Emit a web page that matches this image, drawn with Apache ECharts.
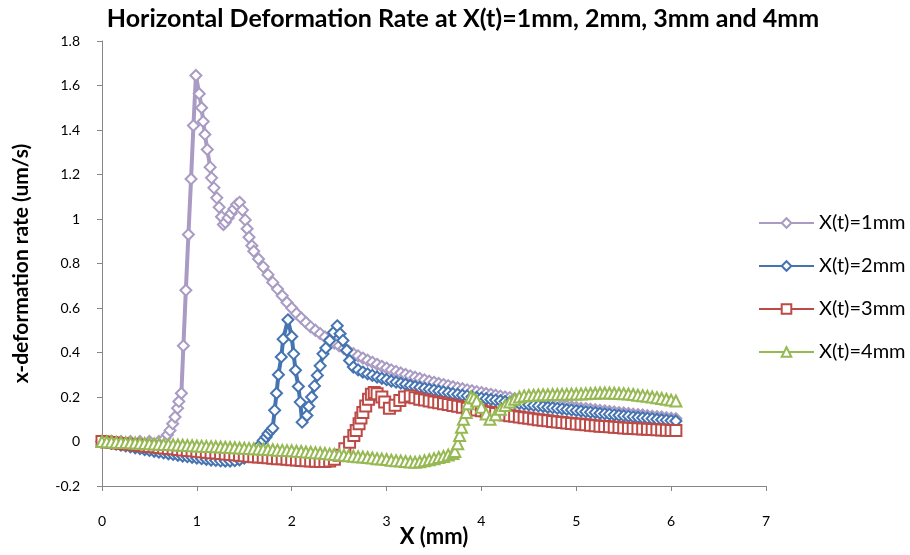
<!DOCTYPE html>
<html><head><meta charset="utf-8">
<script src="https://cdn.jsdelivr.net/npm/echarts@6/dist/echarts.min.js"></script>
<style>html,body{margin:0;padding:0;background:#fff}#c{width:910px;height:555px}</style>
</head><body><div id="c"></div>
<script>
var seriesNames = ['X(t)=1mm', 'X(t)=2mm', 'X(t)=3mm', 'X(t)=4mm'];
var xTicks = [0, 1, 2, 3, 4, 5, 6, 7];
var yTicks = [-0.2, 0, 0.2, 0.4, 0.6, 0.8, 1, 1.2, 1.4, 1.6, 1.8];

var x1 = [0,0.1,0.2,0.3,0.4,0.5,0.6,0.66,0.69,0.717,0.745,0.77,0.797,0.81,0.837,0.858,0.884,0.911,0.939,0.964,0.99,1.025,1.05,1.067,1.085,1.11,1.14,1.155,1.18,1.21,1.235,1.26,1.28,1.3,1.33,1.36,1.39,1.42,1.45,1.48,1.51,1.53,1.55,1.58,
1.6,1.65,1.7,1.75,1.8,1.85,1.9,1.95,2.0,2.05,2.1,2.15,2.2,2.25,2.3,2.35,2.4,2.45,2.5,2.55,2.6,2.65,2.7,2.75,2.8,2.85,2.9,2.95,3.0,3.05,3.1,3.15,3.2,3.25,3.3,3.35,3.4,3.45,3.5,3.55,3.6,3.65,3.7,3.75,3.8,3.85,3.9,3.95,4.0,4.05,4.1,4.15,4.2,4.25,4.3,4.35,4.4,4.45,4.5,4.55,4.6,4.65,4.7,4.75,4.8,4.85,4.9,4.95,5.0,5.05,5.1,5.15,5.2,5.25,5.3,5.35,5.4,5.45,5.5,5.55,5.6,5.65,5.7,5.75,5.8,5.85,5.9,5.95,6.0,6.05];
var y1 = [0,0,0,0,0,0,0,0.013,0.03,0.05,0.08,0.11,0.15,0.18,0.217,0.43,0.68,0.93,1.18,1.42,1.645,1.563,1.5,1.438,1.38,1.312,1.233,1.185,1.14,1.095,1.053,1.01,0.975,0.985,1.005,1.025,1.045,1.065,1.075,1.04,0.996,0.956,0.918,0.88,
0.855,0.82,0.785,0.75,0.715,0.685,0.655,0.625,0.6,0.575,0.555,0.535,0.515,0.5,0.485,0.47,0.455,0.442,0.43,0.418,0.406,0.395,0.385,0.375,0.365,0.356,0.347,0.338,0.33,0.322,0.315,0.308,0.301,0.295,0.289,0.283,0.277,0.271,0.266,0.261,0.256,0.251,0.246,0.241,0.237,0.232,0.228,0.224,0.22,0.216,0.212,0.208,0.204,0.2,0.197,0.193,0.19,0.186,0.183,0.18,0.177,0.174,0.171,0.168,0.165,0.162,0.159,0.156,0.153,0.15,0.148,0.145,0.143,0.14,0.138,0.135,0.133,0.13,0.128,0.126,0.123,0.121,0.119,0.116,0.114,0.112,0.11,0.107,0.105,0.103];

var x2 = [0,0.05,0.1,0.15,0.2,0.25,0.3,0.35,0.4,0.45,0.5,0.55,0.6,0.65,0.7,0.75,0.8,0.85,0.9,0.95,1.0,1.05,1.1,1.15,1.2,1.25,1.3,1.35,1.4,1.45,1.5,1.55,1.6,1.65,
1.7,1.73,1.75,1.78,1.8,1.82,1.84,1.86,1.89,1.91,1.96,2.0,2.02,2.04,2.07,2.09,2.11,2.16,2.18,2.21,2.24,2.27,2.3,2.33,2.36,2.4,2.44,2.48,2.51,2.54,2.58,2.61,2.65,
2.7,2.75,2.8,2.85,2.9,2.95,3.0,3.05,3.1,3.15,3.2,3.25,3.3,3.35,3.4,3.45,3.5,3.55,3.6,3.65,3.7,3.75,3.8,3.85,3.9,3.95,4.0,4.05,4.1,4.15,4.2,4.25,4.3,4.35,4.4,4.45,4.5,4.55,4.6,4.65,4.7,4.75,4.8,4.85,4.9,4.95,5.0,5.05,5.1,5.15,5.2,5.25,5.3,5.35,5.4,5.45,5.5,5.55,5.6,5.65,5.7,5.75,5.8,5.85,5.9,5.95,6.0,6.05];
var y2 = [0,-0.004,-0.008,-0.012,-0.016,-0.02,-0.024,-0.028,-0.032,-0.036,-0.04,-0.044,-0.048,-0.051,-0.055,-0.058,-0.062,-0.065,-0.068,-0.071,-0.074,-0.077,-0.08,-0.083,-0.085,-0.087,-0.088,-0.088,-0.086,-0.082,-0.075,-0.063,-0.045,-0.022,
0.005,0.02,0.035,0.05,0.06,0.14,0.217,0.3,0.38,0.46,0.547,0.472,0.394,0.32,0.247,0.177,0.087,0.117,0.157,0.2,0.25,0.297,0.34,0.394,0.42,0.454,0.49,0.52,0.484,0.454,0.41,0.364,0.335,
0.322,0.312,0.304,0.297,0.29,0.284,0.278,0.272,0.267,0.262,0.257,0.252,0.247,0.243,0.239,0.235,0.231,0.227,0.223,0.219,0.215,0.212,0.208,0.205,0.201,0.198,0.195,0.192,0.189,0.186,0.183,0.18,0.177,0.174,0.171,0.168,0.165,0.162,0.16,0.157,0.154,0.152,0.149,0.147,0.144,0.142,0.139,0.137,0.134,0.132,0.13,0.127,0.125,0.123,0.12,0.118,0.116,0.114,0.111,0.109,0.107,0.105,0.103,0.1,0.098,0.096,0.094,0.092];

var x3 = [0,0.05,0.1,0.15,0.2,0.25,0.3,0.35,0.4,0.45,0.5,0.55,0.6,0.65,0.7,0.75,0.8,0.85,0.9,0.95,1.0,1.05,1.1,1.15,1.2,1.25,1.3,1.35,1.4,1.45,1.5,1.55,1.6,1.65,1.7,1.75,1.8,1.85,1.9,1.95,2.0,2.05,2.1,2.15,2.2,2.25,2.3,2.35,2.4,2.45,2.5,
2.56,2.61,2.655,2.68,2.71,2.73,2.75,2.78,2.81,2.84,2.87,2.9,2.95,2.98,3.03,3.09,3.14,3.19,3.25,3.3,
3.35,3.4,3.45,3.5,3.55,3.6,3.65,3.7,3.75,3.8,3.85,3.9,3.95,4.0,4.05,4.1,4.15,4.2,4.25,4.3,4.35,4.4,4.45,4.5,4.55,4.6,4.65,4.7,4.75,4.8,4.85,4.9,4.95,5.0,5.05,5.1,5.15,5.2,5.25,5.3,5.35,5.4,5.45,5.5,5.55,5.6,5.65,5.7,5.75,5.8,5.85,5.9,5.95,6.0,6.05];
var y3 = [0,-0.002,-0.004,-0.007,-0.009,-0.011,-0.013,-0.015,-0.018,-0.02,-0.022,-0.024,-0.027,-0.029,-0.031,-0.033,-0.036,-0.038,-0.04,-0.042,-0.044,-0.046,-0.048,-0.05,-0.052,-0.054,-0.056,-0.058,-0.06,-0.062,-0.064,-0.066,-0.068,-0.07,-0.071,-0.073,-0.075,-0.077,-0.078,-0.08,-0.082,-0.083,-0.085,-0.086,-0.088,-0.089,-0.09,-0.09,-0.088,-0.08,-0.062,
-0.033,-0.003,0.027,0.05,0.08,0.106,0.13,0.16,0.19,0.212,0.22,0.215,0.2,0.177,0.15,0.163,0.184,0.2,0.205,0.197,
0.19,0.186,0.182,0.178,0.174,0.17,0.166,0.162,0.158,0.154,0.15,0.146,0.142,0.138,0.134,0.13,0.126,0.122,0.119,0.116,0.113,0.11,0.107,0.104,0.101,0.098,0.095,0.093,0.09,0.088,0.085,0.083,0.081,0.079,0.077,0.075,0.073,0.071,0.069,0.067,0.066,0.064,0.063,0.061,0.06,0.058,0.057,0.056,0.055,0.054,0.053,0.052,0.051,0.05,0.049];

var x4 = [0,0.05,0.1,0.15,0.2,0.25,0.3,0.35,0.4,0.45,0.5,0.55,0.6,0.65,0.7,0.75,0.8,0.85,0.9,0.95,1.0,1.05,1.1,1.15,1.2,1.25,1.3,1.35,1.4,1.45,1.5,1.55,1.6,1.65,1.7,1.75,1.8,1.85,1.9,1.95,2.0,2.05,2.1,2.15,2.2,2.25,2.3,2.35,2.4,2.45,2.5,2.55,2.6,2.65,2.7,2.75,2.8,2.85,2.9,2.95,3.0,3.05,3.1,3.15,3.2,3.25,3.3,3.35,3.4,3.45,3.5,3.55,3.6,3.65,3.7,
3.72,3.75,3.77,3.79,3.81,3.84,3.86,3.89,3.92,3.95,4.0,4.05,4.09,
4.15,4.2,4.25,4.3,4.35,4.4,4.45,4.5,4.55,4.6,4.65,4.7,4.75,4.8,4.85,4.9,4.95,5.0,5.05,5.1,5.15,5.2,5.25,5.3,5.35,5.4,5.45,5.5,5.55,5.6,5.65,5.7,5.75,5.8,5.85,5.9,5.95,6.0,6.05];
var y4 = [0,-0.001,-0.002,-0.003,-0.004,-0.005,-0.006,-0.007,-0.008,-0.009,-0.01,-0.011,-0.012,-0.013,-0.014,-0.015,-0.016,-0.017,-0.018,-0.019,-0.02,-0.021,-0.022,-0.023,-0.024,-0.025,-0.026,-0.027,-0.028,-0.029,-0.03,-0.031,-0.033,-0.034,-0.035,-0.036,-0.037,-0.039,-0.04,-0.041,-0.042,-0.044,-0.045,-0.047,-0.048,-0.05,-0.052,-0.054,-0.056,-0.058,-0.06,-0.062,-0.064,-0.066,-0.068,-0.07,-0.072,-0.074,-0.077,-0.079,-0.081,-0.084,-0.086,-0.088,-0.09,-0.092,-0.093,-0.091,-0.087,-0.082,-0.077,-0.072,-0.067,-0.061,-0.054,
-0.045,-0.01,0.027,0.064,0.1,0.13,0.17,0.2,0.195,0.182,0.154,0.124,0.1,
0.12,0.145,0.162,0.177,0.19,0.2,0.205,0.207,0.208,0.209,0.21,0.21,0.211,0.211,0.212,0.212,0.213,0.213,0.214,0.215,0.216,0.217,0.218,0.218,0.218,0.217,0.216,0.215,0.213,0.211,0.208,0.206,0.203,0.2,0.197,0.193,0.19,0.186,0.182];

function pairs(xs, ys) { return xs.map(function (x, i) { return [x, ys[i]]; }); }

var colors = ['#A99BC4', '#4574B1', '#BC4A47', '#97B954'];
var symbols = ['diamond', 'diamond', 'rect', 'triangle'];
var symSizes = [11, 11, 11, 11];
var xs = [x1, x2, x3, x4], ys = [y1, y2, y3, y4];
var FONT = 'Lato, "Liberation Sans", sans-serif';

var chart = echarts.init(document.getElementById('c'), null, {renderer: 'canvas'});
chart.setOption({
  backgroundColor: '#ffffff',
  animation: false,
  title: {
    text: 'Horizontal Deformation Rate at X(t)=1mm, 2mm, 3mm and 4mm',
    left: 458, top: 1, textAlign: 'center',
    textStyle: {fontFamily: FONT, fontSize: 25, fontWeight: 'bold', color: '#000'}
  },
  legend: {
    orient: 'vertical', left: 753, top: 208,
    itemWidth: 55, itemHeight: 12, itemGap: 23,
    textStyle: {fontFamily: FONT, fontSize: 20, color: '#000'},
    lineStyle: {width: 2},
    data: seriesNames
  },
  grid: {left: 102, right: 144, top: 41, bottom: 69, outerBoundsMode: 'none', containLabel: false},
  xAxis: {
    type: 'value', min: xTicks[0], max: xTicks[xTicks.length - 1], interval: 1,
    name: 'X (mm)', nameLocation: 'middle', nameGap: 40, nameMoveOverlap: false,
    nameTextStyle: {fontFamily: FONT, fontSize: 22, fontWeight: 'bold', color: '#000'},
    axisLine: {onZero: false, lineStyle: {color: '#868686', width: 1}},
    axisTick: {show: true, inside: false, length: 5, lineStyle: {color: '#868686'}},
    axisLabel: {fontFamily: FONT, fontSize: 14, color: '#000', margin: 28},
    splitLine: {show: false}
  },
  yAxis: {
    type: 'value', min: yTicks[0], max: yTicks[yTicks.length - 1], interval: 0.2,
    name: 'x-deformation rate (um/s)', nameLocation: 'middle', nameGap: 70, nameMoveOverlap: false,
    nameTextStyle: {fontFamily: FONT, fontSize: 21, fontWeight: 'bold', color: '#000'},
    axisLine: {show: true, lineStyle: {color: '#868686', width: 1}},
    axisTick: {show: true, inside: false, length: 5, lineStyle: {color: '#868686'}},
    axisLabel: {fontFamily: FONT, fontSize: 14, color: '#000', margin: 22,
      formatter: function (v) { return String(Math.round(v * 10) / 10); }},
    splitLine: {show: false}
  },
  series: seriesNames.map(function (n, i) {
    return {
      name: n, type: 'line', data: pairs(xs[i], ys[i]),
      symbol: symbols[i], symbolSize: symSizes[i], showAllSymbol: true,
      lineStyle: {color: colors[i], width: 4},
      itemStyle: {color: '#ffffff', borderColor: colors[i], borderWidth: 2},
      z: 2 + i
    };
  })
});
</script></body></html>
